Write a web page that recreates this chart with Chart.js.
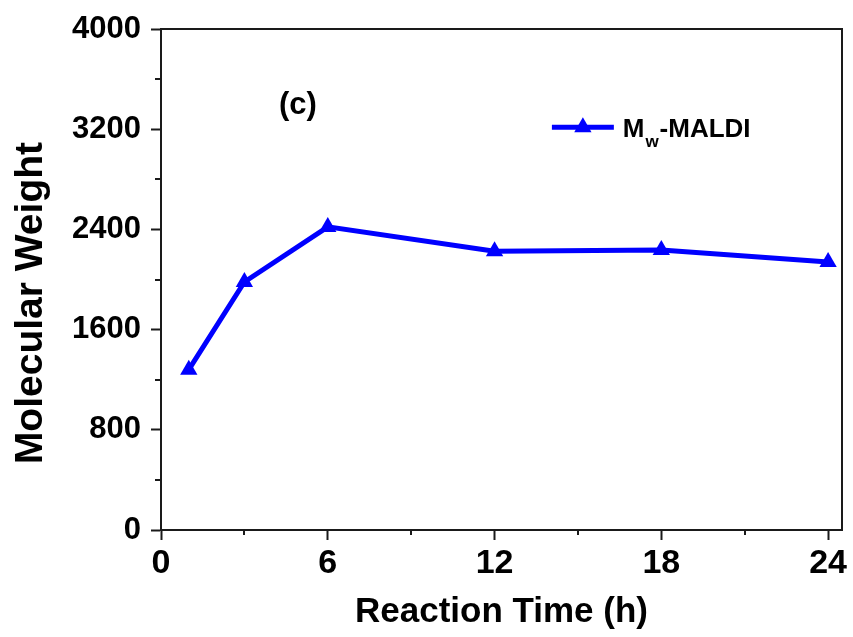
<!DOCTYPE html>
<html>
<head>
<meta charset="utf-8">
<script src="https://cdn.jsdelivr.net/npm/chart.js@4"></script>
<style>
  body { margin: 0; background: #fff; }
  #wrap { width: 853px; height: 637px; }
</style>
</head>
<body>
<div id="wrap"><canvas id="mwChart" width="853" height="637"></canvas></div>
<script>
// data
const hours = [1, 3, 6, 12, 18, 24];
const mwMaldi = [1280, 1980, 2420, 2225, 2235, 2140];
const xTicks = [0, 6, 12, 18, 24];
const xMinor = [3, 9, 15, 21];
const yTicks = [0, 800, 1600, 2400, 3200, 4000];
const yMinor = [400, 1200, 2000, 2800, 3600];
const seriesName = ['M', 'w', '-MALDI'];
const panelLabel = '(c)';
const xTitle = 'Reaction Time (h)';
const yTitle = 'Molecular Weight';

const ink = '#1a1a1a';
const blue = '#0000ff';
const fontFam = '"Liberation Sans", Arial, sans-serif';

// frame, minor ticks, y title, panel label and legend
const extras = {
    id: 'extras',
    afterDraw(chart) {
        const ctx = chart.ctx;
        const a = chart.chartArea;
        const xs = chart.scales.x, ys = chart.scales.y;
        ctx.save();
        ctx.strokeStyle = ink;
        ctx.lineWidth = 2;
        ctx.strokeRect(a.left, a.top, a.right - a.left, a.bottom - a.top);

        xMinor.forEach(v => {
            let px = Math.round(xs.getPixelForValue(v));
            ctx.beginPath(); ctx.moveTo(px, a.bottom); ctx.lineTo(px, a.bottom + 5); ctx.stroke();
        });
        yMinor.forEach(v => {
            let py = Math.round(ys.getPixelForValue(v));
            ctx.beginPath(); ctx.moveTo(a.left, py); ctx.lineTo(a.left - 6, py); ctx.stroke();
        });

        // y axis title
        ctx.fillStyle = '#000';
        ctx.font = 'bold 39px ' + fontFam;
        ctx.translate(42, a.top + (a.bottom - a.top) * 0.547);
        ctx.rotate(-Math.PI / 2);
        ctx.textAlign = 'center';
        ctx.textBaseline = 'alphabetic';
        ctx.fillText(yTitle, 0, 0);
        ctx.restore();

        ctx.save();
        const w = a.right - a.left, h = a.bottom - a.top;
        // panel label
        ctx.fillStyle = '#000';
        ctx.font = 'bold 31px ' + fontFam;
        ctx.textAlign = 'center';
        ctx.textBaseline = 'middle';
        ctx.fillText(panelLabel, a.left + w * 0.201, a.top + h * 0.153);

        // legend
        const ly = a.top + h * 0.196;
        const lx0 = a.left + w * 0.574, lx1 = a.left + w * 0.665;
        ctx.strokeStyle = blue;
        ctx.lineWidth = 5;
        ctx.beginPath(); ctx.moveTo(lx0, ly); ctx.lineTo(lx1, ly); ctx.stroke();
        const cx = (lx0 + lx1) / 2, r = 10;
        ctx.fillStyle = blue;
        ctx.beginPath();
        ctx.moveTo(cx, ly - r);
        ctx.lineTo(cx + r * 0.866, ly + r / 2);
        ctx.lineTo(cx - r * 0.866, ly + r / 2);
        ctx.closePath(); ctx.fill();

        ctx.fillStyle = '#000';
        ctx.textAlign = 'left';
        ctx.textBaseline = 'alphabetic';
        let tx = a.left + w * 0.678;
        const base = ly + 10;
        ctx.font = 'bold 26px ' + fontFam;
        ctx.fillText(seriesName[0], tx, base);
        tx += ctx.measureText(seriesName[0]).width + 1;
        ctx.font = 'bold 17px ' + fontFam;
        ctx.fillText(seriesName[1], tx, base + 10);
        tx += ctx.measureText(seriesName[1]).width + 1;
        ctx.font = 'bold 26px ' + fontFam;
        ctx.fillText(seriesName[2], tx, base);
        ctx.restore();
    }
};

document.addEventListener("DOMContentLoaded", function () {
    let canvas = document.getElementById('mwChart');
    new Chart(canvas.getContext('2d'), {
        type: 'line',
        data: {
            labels: hours,
            datasets: [{
                label: seriesName.join(''),
                data: hours.map((h, i) => ({ x: h, y: mwMaldi[i] })),
                borderColor: blue,
                backgroundColor: blue,
                borderWidth: 5,
                tension: 0,
                pointStyle: 'triangle',
                pointRadius: 10,
                pointBorderWidth: 0,
                pointBackgroundColor: blue
            }]
        },
        options: {
            responsive: false,
            animation: false,
            layout: { padding: { top: 29, right: 11, left: 0, bottom: 0 } },
            plugins: { legend: { display: false }, tooltip: { enabled: false } },
            scales: {
                x: {
                    type: 'linear',
                    min: 0,
                    max: 24.5,
                    afterBuildTicks: s => { s.ticks = xTicks.map(v => ({ value: v })); },
                    afterFit: s => { s.height = 107; },
                    grid: { drawOnChartArea: false, tickLength: 10, tickWidth: 2, tickColor: ink },
                    border: { color: ink, width: 2 },
                    ticks: { color: '#000', font: { family: fontFam, size: 34, weight: 'bold' }, padding: 3, maxRotation: 0, callback: v => String(v) },
                    title: { display: true, text: xTitle, color: '#000', font: { family: fontFam, size: 35, weight: 'bold' }, padding: { top: 0, bottom: 4 } }
                },
                y: {
                    min: 0,
                    max: 4000,
                    afterBuildTicks: s => { s.ticks = yTicks.map(v => ({ value: v })); },
                    afterFit: s => { s.width = 161; },
                    grid: { drawOnChartArea: false, tickLength: 10, tickWidth: 2, tickColor: ink },
                    border: { color: ink, width: 2 },
                    ticks: { color: '#000', font: { family: fontFam, size: 31, weight: 'bold' }, padding: 10, callback: v => String(v) }
                }
            }
        },
        plugins: [extras]
    });
});
</script>
</body>
</html>
